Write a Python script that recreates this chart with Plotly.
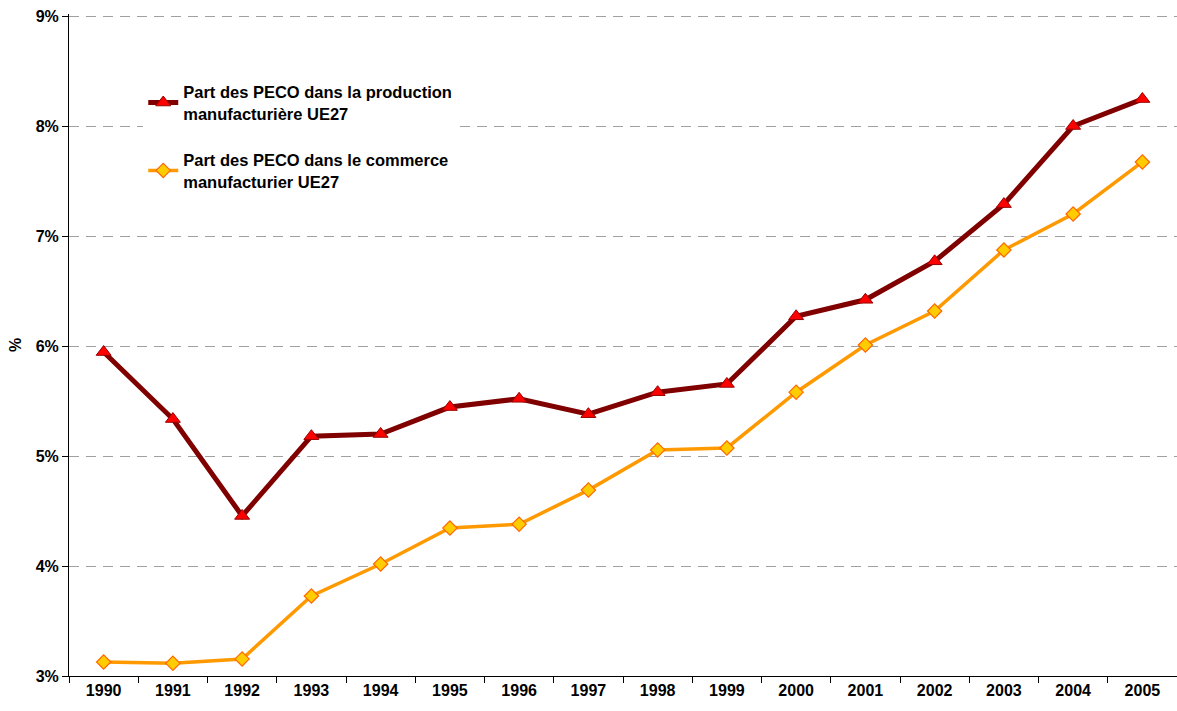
import plotly.graph_objects as go

years = [str(y) for y in range(1990, 2006)]
production = [5.945, 5.336, 4.455, 5.18, 5.20, 5.445, 5.52, 5.38, 5.58, 5.655,
              6.27, 6.42, 6.77, 7.29, 8.00, 8.245]
commerce = [3.127, 3.115, 3.155, 3.727, 4.018, 4.345, 4.38, 4.69, 5.055, 5.073,
            5.58, 6.009, 6.318, 6.873, 7.20, 7.673]
y_ticks = [3, 4, 5, 6, 7, 8, 9]
y_tick_labels = [f"{v}%" for v in y_ticks]

name_prod = "Part des PECO dans la production<br>manufacturière UE27"
name_comm = "Part des PECO dans le commerce<br>manufacturier UE27"

fig = go.Figure()
fig.add_trace(go.Scatter(
    x=years, y=production, mode="lines+markers", name=name_prod,
    legendgroup="a",
    line=dict(color="#800000", width=5),
    marker=dict(symbol="triangle-up", size=13, color="#FF0000",
                line=dict(color="#990000", width=1)),
))
fig.add_trace(go.Scatter(
    x=years, y=commerce, mode="lines+markers", name=name_comm,
    legendgroup="b",
    line=dict(color="#FF9900", width=3.5),
    marker=dict(symbol="diamond", size=11, color="#FFCC00",
                line=dict(color="#FF6600", width=1.2)),
))

FF = "Liberation Sans, Arial, sans-serif"
bold16 = dict(family=FF, size=16, color="#000000", weight="bold")

fig.update_layout(
    width=1177, height=711,
    margin=dict(l=69, r=0, t=14, b=35),
    paper_bgcolor="white", plot_bgcolor="white",
    font=dict(family=FF, size=16, color="#000000"),
    showlegend=True,
    legend=dict(
        x=0.067, y=0.9085, xanchor="left", yanchor="top",
        bgcolor="white", borderwidth=0,
        font=dict(family=FF, size=16.5, color="#000000", weight="bold"),
        tracegroupgap=22, itemwidth=30,
    ),
    xaxis=dict(
        type="category", range=[-0.5, 15.5], automargin=False,
        tickson="boundaries", ticks="outside", ticklen=6, tickcolor="#000000",
        showline=True, linecolor="#000000", linewidth=1,
        showgrid=False,
        tickfont=bold16,
    ),
    yaxis=dict(
        range=[3, 9.0182], tickvals=y_ticks, ticktext=y_tick_labels, automargin=False,
        ticks="outside", ticklen=6, tickcolor="#000000",
        showline=True, linecolor="#000000", linewidth=1,
        showgrid=True, gridcolor="#A0A0A0", griddash="10px,7px", gridwidth=1,
        zeroline=False,
        title=dict(text="%", standoff=10, font=bold16),
        tickfont=bold16,
    ),
)

fig.write_html("out.html", config={"displayModeBar": False},
               post_script="document.body.style.margin='0';")
